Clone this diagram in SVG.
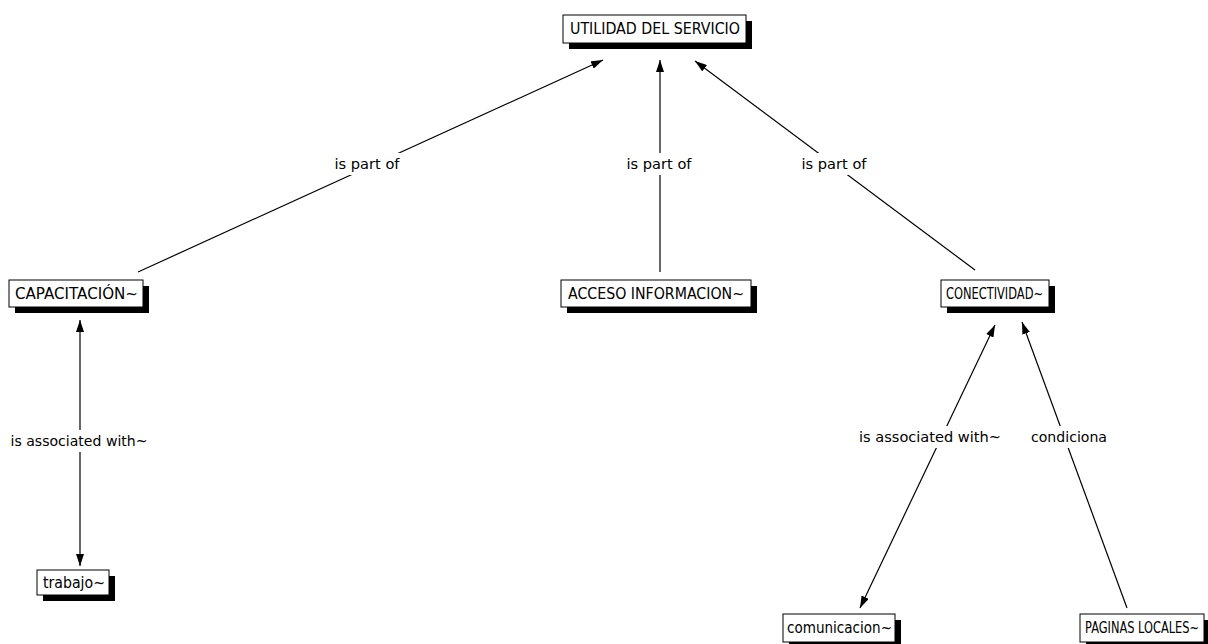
<svg xmlns="http://www.w3.org/2000/svg" width="1208" height="644" viewBox="0 0 1208 644">
  <style>
    .shadow { fill: #000; }
    .box { fill: #fff; stroke: #000; stroke-width: 1; }
    .node-text { font-family: "DejaVu Sans", "Liberation Sans", sans-serif; font-size: 15px; fill: #000; text-anchor: middle; }
    .edge { stroke: #000; stroke-width: 1.2; fill: none; }
    .label-bg { fill: #fff; }
    .label { font-family: "DejaVu Sans", "Liberation Sans", sans-serif; font-size: 14px; fill: #000; text-anchor: middle; }
  </style>
  <defs>
    <marker id="arrow-end" viewBox="0 0 12 8" refX="12" refY="4" markerWidth="12" markerHeight="8" markerUnits="userSpaceOnUse" orient="auto">
      <path d="M0,0 L12,4 L0,8 z" fill="#000"/>
    </marker>
    <marker id="arrow-start" viewBox="0 0 12 8" refX="0" refY="4" markerWidth="12" markerHeight="8" markerUnits="userSpaceOnUse" orient="auto">
      <path d="M12,0 L0,4 L12,8 z" fill="#000"/>
    </marker>
  </defs>

  <rect width="1208" height="644" fill="#fff"/>

  <!-- connectors with their labels -->
  <g id="connectors">
    <line class="edge" x1="138" y1="272" x2="603" y2="60" marker-end="url(#arrow-end)"/>
    <line class="edge" x1="660" y1="272" x2="660" y2="60" marker-end="url(#arrow-end)"/>
    <line class="edge" x1="975" y1="270" x2="695" y2="61" marker-end="url(#arrow-end)"/>
    <line class="edge" x1="80" y1="320" x2="80" y2="566" marker-start="url(#arrow-start)" marker-end="url(#arrow-end)"/>
    <line class="edge" x1="995" y1="325" x2="860" y2="608" marker-start="url(#arrow-start)" marker-end="url(#arrow-end)"/>
    <line class="edge" x1="1127" y1="608" x2="1022" y2="322" marker-end="url(#arrow-end)"/>

    <rect class="label-bg" x="332" y="153" width="70" height="22"/>
    <text class="label" x="367" y="169" textLength="65" lengthAdjust="spacingAndGlyphs">is part of</text>
    <rect class="label-bg" x="624" y="153" width="70" height="22"/>
    <text class="label" x="659" y="169" textLength="65" lengthAdjust="spacingAndGlyphs">is part of</text>
    <rect class="label-bg" x="799" y="153" width="70" height="22"/>
    <text class="label" x="834" y="169" textLength="65" lengthAdjust="spacingAndGlyphs">is part of</text>
    <rect class="label-bg" x="8" y="430" width="142" height="22"/>
    <text class="label" x="79" y="446" textLength="137" lengthAdjust="spacingAndGlyphs">is associated with~</text>
    <rect class="label-bg" x="855" y="426" width="150" height="22"/>
    <text class="label" x="930" y="442" textLength="142" lengthAdjust="spacingAndGlyphs">is associated with~</text>
    <rect class="label-bg" x="1029" y="426" width="80" height="22"/>
    <text class="label" x="1069" y="442" textLength="76" lengthAdjust="spacingAndGlyphs">condiciona</text>
  </g>

  <g id="utilidad-del-servicio">
    <rect class="shadow" x="569" y="21" width="183" height="28"/>
    <rect class="box" x="563" y="15" width="183" height="28"/>
    <text class="node-text" x="655" y="34" textLength="170" lengthAdjust="spacingAndGlyphs">UTILIDAD DEL SERVICIO</text>
  </g>

  <g id="capacitacion">
    <rect class="shadow" x="15" y="286" width="134" height="27"/>
    <rect class="box" x="9" y="280" width="134" height="27"/>
    <text class="node-text" x="76.5" y="299" textLength="123" lengthAdjust="spacingAndGlyphs">CAPACITACIÓN~</text>
  </g>

  <g id="acceso-informacion">
    <rect class="shadow" x="567" y="286" width="190" height="27"/>
    <rect class="box" x="561" y="280" width="190" height="27"/>
    <text class="node-text" x="656" y="299" textLength="176" lengthAdjust="spacingAndGlyphs">ACCESO INFORMACION~</text>
  </g>

  <g id="conectividad">
    <rect class="shadow" x="947" y="286" width="108" height="27"/>
    <rect class="box" x="941" y="280" width="108" height="27"/>
    <text class="node-text" x="994.5" y="299" textLength="97" lengthAdjust="spacingAndGlyphs">CONECTIVIDAD~</text>
  </g>

  <g id="trabajo">
    <rect class="shadow" x="43" y="576" width="72" height="25"/>
    <rect class="box" x="37" y="570" width="72" height="25"/>
    <text class="node-text" x="74" y="588" textLength="62" lengthAdjust="spacingAndGlyphs">trabajo~</text>
  </g>

  <g id="comunicacion">
    <rect class="shadow" x="789" y="620" width="112" height="28"/>
    <rect class="box" x="783" y="614" width="112" height="28"/>
    <text class="node-text" x="839.5" y="633" textLength="105" lengthAdjust="spacingAndGlyphs">comunicacion~</text>
  </g>

  <g id="paginas-locales">
    <rect class="shadow" x="1086" y="620" width="124" height="28"/>
    <rect class="box" x="1080" y="614" width="124" height="28"/>
    <text class="node-text" x="1142" y="633" textLength="114" lengthAdjust="spacingAndGlyphs">PAGINAS LOCALES~</text>
  </g>
</svg>
